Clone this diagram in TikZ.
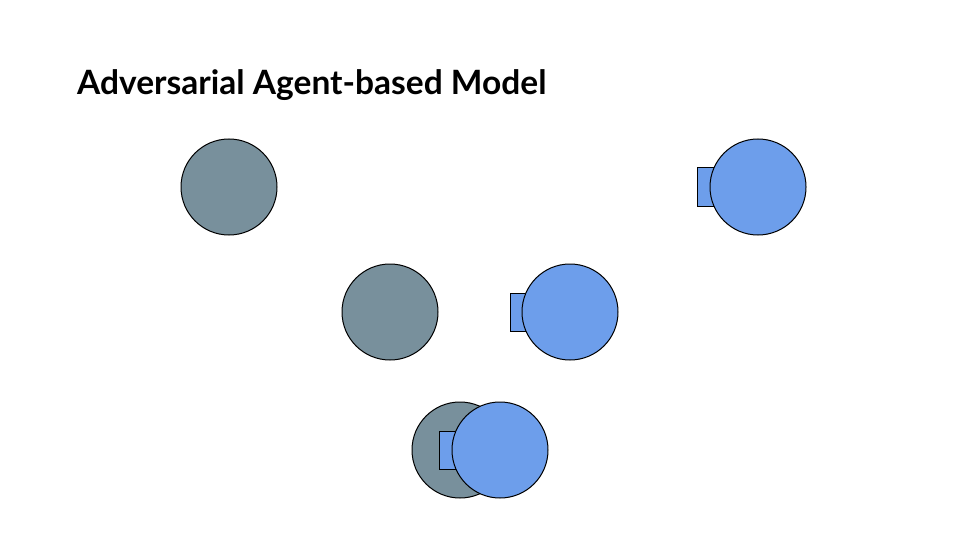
\documentclass[tikz,border=0pt]{standalone}
\usepackage{fontspec}
\setmainfont{Lato}
\usetikzlibrary{positioning}

\definecolor{agentgray}{HTML}{78909C}
\definecolor{agentblue}{HTML}{6D9EEB}

\tikzset{
  agent/.style = {draw, circle, line width=1pt, minimum size=96pt, inner sep=0pt},
  gray agent/.style = {agent, fill=agentgray},
  blue agent/.style = {agent, fill=agentblue},
  pack/.style = {draw, line width=1pt, fill=agentblue, minimum width=24pt, minimum height=38pt, inner sep=0pt, anchor=west}
}

\begin{document}
\begin{tikzpicture}[x=1pt, y=-1pt]
\useasboundingbox[fill=white] (0,0) rectangle (960,540);

\node[anchor=base west, inner sep=0pt, font=\fontsize{33.5}{40}\selectfont\bfseries] (title) at (77,95) {Adversarial Agent-based Model};

% top row
\node[gray agent] (g1) at (229,187) {};
\node[pack] (p1) at (697,187) {};
\node[blue agent] (b1) at (758,187) {};

% middle row
\node[gray agent] (g2) at (390,312) {};
\node[pack] (p2) at (510,312) {};
\node[blue agent] (b2) at (570,312) {};

% bottom, overlapping
\node[gray agent] (g3) at (460,450) {};
\node[pack] (p3) at (439,450) {};
\node[blue agent] (b3) at (500,450) {};
\end{tikzpicture}
\end{document}
